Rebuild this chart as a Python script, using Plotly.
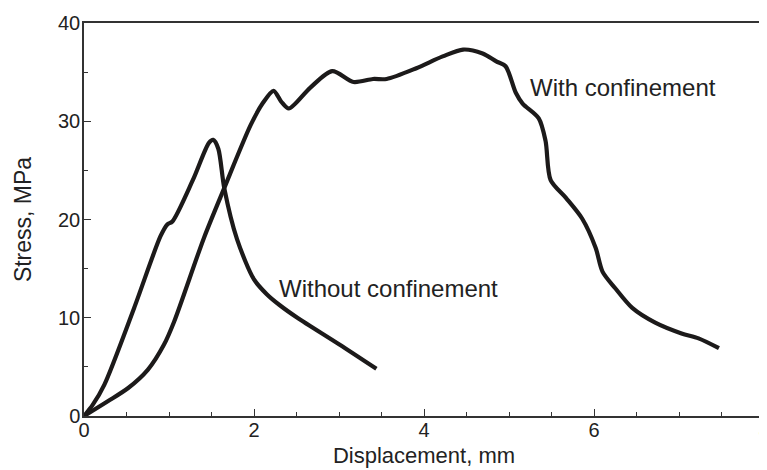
import plotly.graph_objects as go

# Data
without_x = [0, 0.1, 0.24, 0.59, 0.9, 0.98, 1.04, 1.28, 1.47, 1.52, 1.58, 1.65, 1.80, 2.0, 2.15, 2.3, 2.51, 3.0, 3.44]
without_y = [0, 1.1, 3.2, 11.0, 18.3, 19.5, 19.8, 24.0, 27.8, 28.1, 27.2, 23.2, 18.0, 13.9, 12.4, 11.3, 10.0, 7.3, 4.8]

with_x = [0, 0.28, 0.52, 0.75, 0.94, 1.06, 1.41, 1.65, 1.96, 2.1, 2.23, 2.32, 2.41, 2.66, 2.92, 3.17,
          3.40, 3.56, 3.91, 4.22, 4.46, 4.69, 4.85, 4.96, 5.08, 5.16, 5.35, 5.43, 5.49, 5.67,
          5.86, 6.02, 6.10, 6.25, 6.45, 6.72, 7.03, 7.23, 7.47]
with_y = [0, 1.5, 2.85, 4.7, 7.25, 9.6, 18.1, 23.2, 29.6, 31.8, 33.1, 32.0, 31.3, 33.4, 35.1, 34.0,
          34.3, 34.3, 35.4, 36.6, 37.3, 36.9, 36.1, 35.6, 32.9, 31.8, 30.3, 28.0, 24.0, 22.2,
          20.1, 17.1, 14.7, 13.0, 11.0, 9.5, 8.4, 7.9, 6.9]

x_ticks = [0, 2, 4, 6, 8]
y_ticks = [0, 10, 20, 30, 40]

labels = ["Without confinement", "With confinement"]
label_x = [2.27, 5.22]
label_y = [13.0, 33.4]

FONT = "Liberation Sans, Arial, Helvetica, sans-serif"
LINE = "#1c1a1a"

fig = go.Figure()
for xs, ys, name in [(without_x, without_y, labels[0]), (with_x, with_y, labels[1])]:
    fig.add_trace(go.Scatter(x=xs, y=ys, mode="lines", name=name,
                             line=dict(color=LINE, width=4.2, shape="spline", smoothing=0.8),
                             hoverinfo="skip"))

for t, x, y in zip(labels, label_x, label_y):
    fig.add_annotation(x=x, y=y, text=t, showarrow=False, xanchor="left", yanchor="middle",
                       font=dict(family=FONT, size=24, color="#222"))

axis_common = dict(showline=True, linecolor="#333", linewidth=1.5, mirror=True,
                   showgrid=False, zeroline=False, ticks="inside", tickcolor="#333",
                   tickwidth=1.2, ticklen=7, automargin=False, ticklabeloverflow="allow",
                   tickfont=dict(family=FONT, size=20, color="#222"))

fig.update_xaxes(range=[0, 8], tickvals=x_ticks, ticktext=[str(v) for v in x_ticks],
                 minor=dict(ticks="inside", dtick=0.5, ticklen=4, tickcolor="#333", tickwidth=1.2),
                 ticklabelstandoff=-5,
                 title=dict(text="Displacement, mm", font=dict(family=FONT, size=22, color="#222"), standoff=8),
                 **axis_common)
fig.update_yaxes(range=[0, 40], tickvals=y_ticks, ticktext=[str(v) for v in y_ticks],
                 minor=dict(ticks="inside", dtick=5, ticklen=4, tickcolor="#333", tickwidth=1.2),
                 ticklabelstandoff=-2,
                 title=dict(text="Stress, MPa", font=dict(family=FONT, size=23, color="#222"), standoff=20),
                 **axis_common)

fig.update_layout(width=767, height=470, margin=dict(l=76, r=11, t=15, b=62, autoexpand=False),
                  plot_bgcolor="white", paper_bgcolor="white", showlegend=False)

fig.write_html("out.html")
